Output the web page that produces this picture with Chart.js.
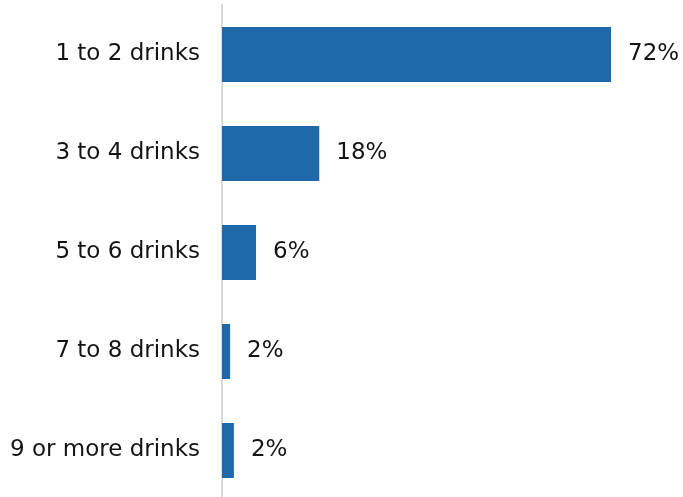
<!DOCTYPE html>
<html>
<head>
<meta charset="utf-8">
<script src="https://cdn.jsdelivr.net/npm/chart.js@4/dist/chart.umd.min.js"></script>
<style>
html,body{margin:0;padding:0;background:#fff;overflow:hidden;}
canvas{display:block;}
</style>
</head>
<body>
<canvas id="c" width="683" height="500" style="width:683px;height:500px;"></canvas>
<script>
const categories = ["1 to 2 drinks", "3 to 4 drinks", "5 to 6 drinks", "7 to 8 drinks", "9 or more drinks"];
const values = [72, 18, 6.3, 1.5, 2.2];
const valueLabels = ["72%", "18%", "6%", "2%", "2%"];

const FONT = "'DejaVu Sans', Verdana, sans-serif";

const labelPlugin = {
  id: 'barLabels',
  afterDatasetsDraw(chart) {
    const ctx = chart.ctx;
    const meta = chart.getDatasetMeta(0);
    ctx.save();
    ctx.font = "23px " + FONT;
    ctx.fillStyle = "#141414";
    ctx.textAlign = "left";
    ctx.textBaseline = "middle";
    meta.data.forEach((bar, i) => {
      ctx.fillText(valueLabels[i], bar.x + 17, bar.y);
    });
    ctx.restore();
  }
};

const chart = new Chart(document.getElementById('c'), {
  type: 'bar',
  data: {
    labels: categories,
    datasets: [{
      data: values,
      backgroundColor: '#1f68a9',
      borderWidth: 0,
      categoryPercentage: 1,
      barPercentage: 0.556
    }]
  },
  options: {
    indexAxis: 'y',
    responsive: false,
    maintainAspectRatio: false,
    devicePixelRatio: 1,
    animation: false,
    layout: { padding: { top: 5, bottom: 0, left: 0, right: 28.7 } },
    plugins: { legend: { display: false }, tooltip: { enabled: false } },
    scales: {
      x: { display: false, min: 0, max: 80 },
      y: {
        grid: { display: false, drawTicks: false },
        border: { display: true, color: '#d9d9d9', width: 2 },
        ticks: { color: '#141414', font: { family: FONT, size: 23 }, padding: 22 },
        afterFit(scale) { scale.width = 222; scale.paddingTop = 0; scale.paddingBottom = 0; }
      }
    }
  },
  plugins: [labelPlugin]
});
</script>
</body>
</html>
